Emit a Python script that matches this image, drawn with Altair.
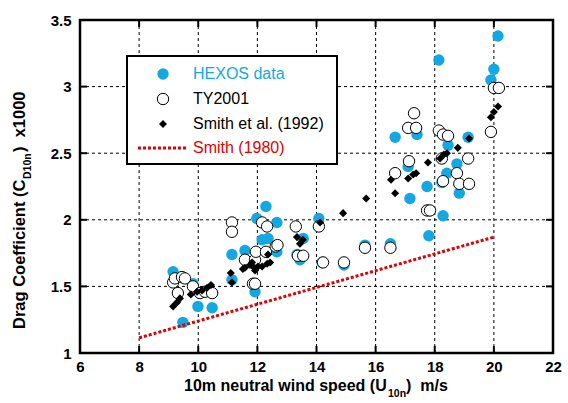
import altair as alt
import pandas as pd

# ---------------- data ----------------
hexos_x = [9.15, 9.48, 9.82, 9.99, 10.47, 11.14, 11.14, 11.58, 11.92, 11.98, 12.16, 12.29, 12.36,
           12.66, 12.66, 13.34, 13.44, 13.55, 14.08, 14.19, 14.93, 15.64, 16.50, 16.66, 17.10,
           17.16, 17.40, 17.74, 17.80, 18.14, 18.28, 18.24, 18.41, 18.45, 18.75, 18.83, 19.13,
           19.90, 20.00, 20.14]
hexos_y = [1.61, 1.23, 1.52, 1.35, 1.34, 1.74, 1.55, 1.77, 1.46, 2.01, 1.85, 2.10, 1.86,
           1.98, 1.76, 1.74, 1.70, 1.86, 2.01, 1.68, 1.66, 1.81, 1.82, 2.62, 2.40,
           2.16, 2.64, 2.25, 1.88, 3.20, 2.03, 2.28, 2.35, 2.56, 2.42, 2.20, 2.62,
           3.05, 3.13, 3.38]

ty_x = [9.15, 9.21, 9.45, 9.55, 9.31, 9.82, 10.06, 10.23, 10.47, 11.14, 11.14, 11.58, 11.85,
        11.92, 11.92, 11.95, 12.16, 12.33, 12.29, 12.62, 12.68, 13.30, 13.37, 13.55, 14.08,
        14.22, 14.93, 15.64, 16.50, 16.66, 17.10, 17.13, 17.30, 17.37, 17.74, 17.84, 18.14,
        18.28, 18.45, 18.24, 18.28, 18.75, 18.83, 19.13, 19.16, 19.90, 20.00, 20.17]
ty_y = [1.53, 1.56, 1.57, 1.56, 1.45, 1.50, 1.45, 1.46, 1.45, 1.98, 1.91, 1.70, 1.52,
        1.52, 1.70, 1.76, 1.98, 1.95, 1.76, 1.80, 1.81, 1.95, 1.73, 1.73, 1.95,
        1.68, 1.68, 1.79, 1.79, 2.35, 2.69, 2.44, 2.80, 2.69, 2.07, 2.07, 2.67,
        2.64, 2.63, 2.46, 2.29, 2.35, 2.27, 2.46, 2.27, 2.66, 2.99, 2.99]

smith92_x = [9.15, 9.28, 9.38, 9.75, 9.96, 10.13, 10.30, 10.43, 11.10, 11.14, 11.51, 11.58,
             11.75, 11.82, 11.85, 11.92, 12.02, 12.16, 12.33, 12.36, 12.43, 13.34, 13.44,
             13.54, 14.12, 14.90, 15.68, 16.52, 16.66, 17.10, 17.27, 17.37, 17.77, 18.18,
             18.31, 18.41, 18.78, 19.16, 19.90, 20.00, 20.14]
smith92_y = [1.35, 1.38, 1.41, 1.44, 1.46, 1.47, 1.49, 1.51, 1.60, 1.53, 1.63, 1.64,
             1.66, 1.68, 1.65, 1.62, 1.65, 1.65, 1.67, 1.74, 1.68, 1.87, 1.82,
             1.85, 1.98, 2.05, 2.16, 2.30, 2.20, 2.31, 2.34, 2.35, 2.43, 2.46,
             2.49, 2.50, 2.54, 2.61, 2.77, 2.81, 2.85]

smith80_x = [8.0, 20.0]
smith80_y = [1.114, 1.87]

x_ticks = [6, 8, 10, 12, 14, 16, 18, 20, 22]
y_ticks = [1, 1.5, 2, 2.5, 3, 3.5]

# ---------------- styling ----------------
W, H = 473, 333
CYAN = "#13a8e2"
RED = "#e00000"
FONT = "Liberation Sans"
NB = "\u00a0"
CSIZE = 130
DSIZE = 65

xs = alt.Scale(domain=[6, 22], nice=False, zero=False)
ys = alt.Scale(domain=[1, 3.5], nice=False, zero=False)

hexos = pd.DataFrame({"x": hexos_x, "y": hexos_y})
ty = pd.DataFrame({"x": ty_x, "y": ty_y})
s92 = pd.DataFrame({"x": smith92_x, "y": smith92_y})
s80 = pd.DataFrame({"x": smith80_x, "y": smith80_y})
xt = pd.DataFrame({"x": x_ticks})
yt = pd.DataFrame({"y": y_ticks})
one = pd.DataFrame({"a": [0]})

xax = alt.Axis(values=x_ticks, grid=False, domain=False, ticks=False, labelFont=FONT,
               labelFontWeight="bold", labelFontSize=15, labelColor="black", labelPadding=6,
               title=None, labelFlush=False)
yax = alt.Axis(values=y_ticks, grid=False, domain=False, ticks=False, labelFont=FONT,
               labelFontWeight="bold", labelFontSize=15, labelColor="black", labelPadding=9,
               title=None, format=".1~f", labelFlush=False)

X = alt.X("x:Q", scale=xs, axis=xax)
Y = alt.Y("y:Q", scale=ys, axis=yax)

# dashed grid
grid_v = alt.Chart(xt).mark_rule(color="black", strokeWidth=1, strokeDash=[3, 3]).encode(
    x=X, y=alt.value(0), y2=alt.value(H))
grid_h = alt.Chart(yt).mark_rule(color="black", strokeWidth=1, strokeDash=[3, 3]).encode(
    y=Y, x=alt.value(0), x2=alt.value(W))

hexos_layer = alt.Chart(hexos).mark_circle(size=CSIZE, color=CYAN, opacity=1).encode(x=X, y=Y)
ty_layer = alt.Chart(ty).mark_point(shape="circle", size=CSIZE, filled=True, fill="white",
                                    stroke="black", strokeWidth=1, opacity=1).encode(x=X, y=Y)
s92_layer = alt.Chart(s92).mark_point(shape="diamond", size=DSIZE, filled=True, color="black",
                                      opacity=1).encode(x=X, y=Y)
s80_layer = alt.Chart(s80).mark_line(color=RED, strokeWidth=3, strokeDash=[3, 2]).encode(x=X, y=Y)

# inward ticks on all four sides
tick_len = 7
tb = alt.Chart(xt).mark_rule(color="black", strokeWidth=2).encode(
    x=X, y=alt.value(H), y2=alt.value(H - tick_len))
tt = alt.Chart(xt).mark_rule(color="black", strokeWidth=2).encode(
    x=X, y=alt.value(0), y2=alt.value(tick_len))
tl = alt.Chart(yt).mark_rule(color="black", strokeWidth=2).encode(
    y=Y, x=alt.value(0), x2=alt.value(tick_len))
tr = alt.Chart(yt).mark_rule(color="black", strokeWidth=2).encode(
    y=Y, x=alt.value(W), x2=alt.value(W - tick_len))

# legend box
LX0, LX1, LY0, LY1 = 47, 257, 36, 144
leg_box = alt.Chart(one).mark_rect(fill="white", stroke="black", strokeWidth=2).encode(
    x=alt.value(LX0), x2=alt.value(LX1), y=alt.value(LY0), y2=alt.value(LY1))
leg_hexos = alt.Chart(one).mark_circle(size=CSIZE, color=CYAN, opacity=1).encode(
    x=alt.value(83), y=alt.value(54))
leg_ty = alt.Chart(one).mark_point(shape="circle", size=CSIZE, filled=True, fill="white",
                                   stroke="black", strokeWidth=1, opacity=1).encode(
    x=alt.value(83), y=alt.value(79))
leg_s92 = alt.Chart(one).mark_point(shape="diamond", size=DSIZE, filled=True, color="black",
                                    opacity=1).encode(x=alt.value(83), y=alt.value(104))
leg_s80 = alt.Chart(one).mark_rule(color=RED, strokeWidth=3, strokeDash=[3, 2]).encode(
    x=alt.value(58), x2=alt.value(106), y=alt.value(128))


def ltext(txt, y, color):
    return alt.Chart(one).mark_text(text=txt, align="left", baseline="middle", font=FONT,
                                    fontSize=16, color=color).encode(
        x=alt.value(113), y=alt.value(y))


leg_texts = [ltext("HEXOS data", 54, CYAN), ltext("TY2001", 79, "black"),
             ltext("Smith et al. (1992)", 104, "black"), ltext("Smith (1980)", 128, RED)]


def ttext(txt, x, y, size, angle=0):
    kw = dict(text=txt, align="left", baseline="middle", font=FONT, fontSize=size,
              fontWeight="bold", color="black")
    if angle:
        kw["angle"] = angle
    return alt.Chart(one).mark_text(**kw).encode(x=alt.value(x), y=alt.value(y))


# x-axis title with subscript
XS = 16
XT0, XTY = 104, 366
x_title = [ttext("10m neutral wind speed (U", XT0, XTY, XS),
           ttext("10n", XT0 + 204, XTY + 8, 10.5),
           ttext(")" + NB + NB + "m/s", XT0 + 222, XTY, XS)]
# y-axis title with subscript (rotated)
YS = 16.5
YTX, YT0 = -60, 309
y_title = [ttext("Drag Coefficient (C", YTX, YT0, YS, 270),
           ttext("D10n", YTX + 8, YT0 - 150, 10.5, 270),
           ttext(")" + NB + NB + "x1000", YTX, YT0 - 177, YS, 270)]

chart = alt.layer(
    grid_v, grid_h, hexos_layer, ty_layer, s92_layer, s80_layer, tb, tt, tl, tr,
    leg_box, leg_hexos, leg_ty, leg_s92, leg_s80, *leg_texts, *x_title, *y_title,
).properties(
    width=W, height=H,
    autosize=alt.AutoSizeParams(type="none"),
    padding={"left": 80, "top": 20, "right": 15, "bottom": 50},
    background="white",
).configure_view(
    stroke="black", strokeWidth=2.5
)

chart.save("out.html", embed_options={"renderer": "svg", "actions": False})
